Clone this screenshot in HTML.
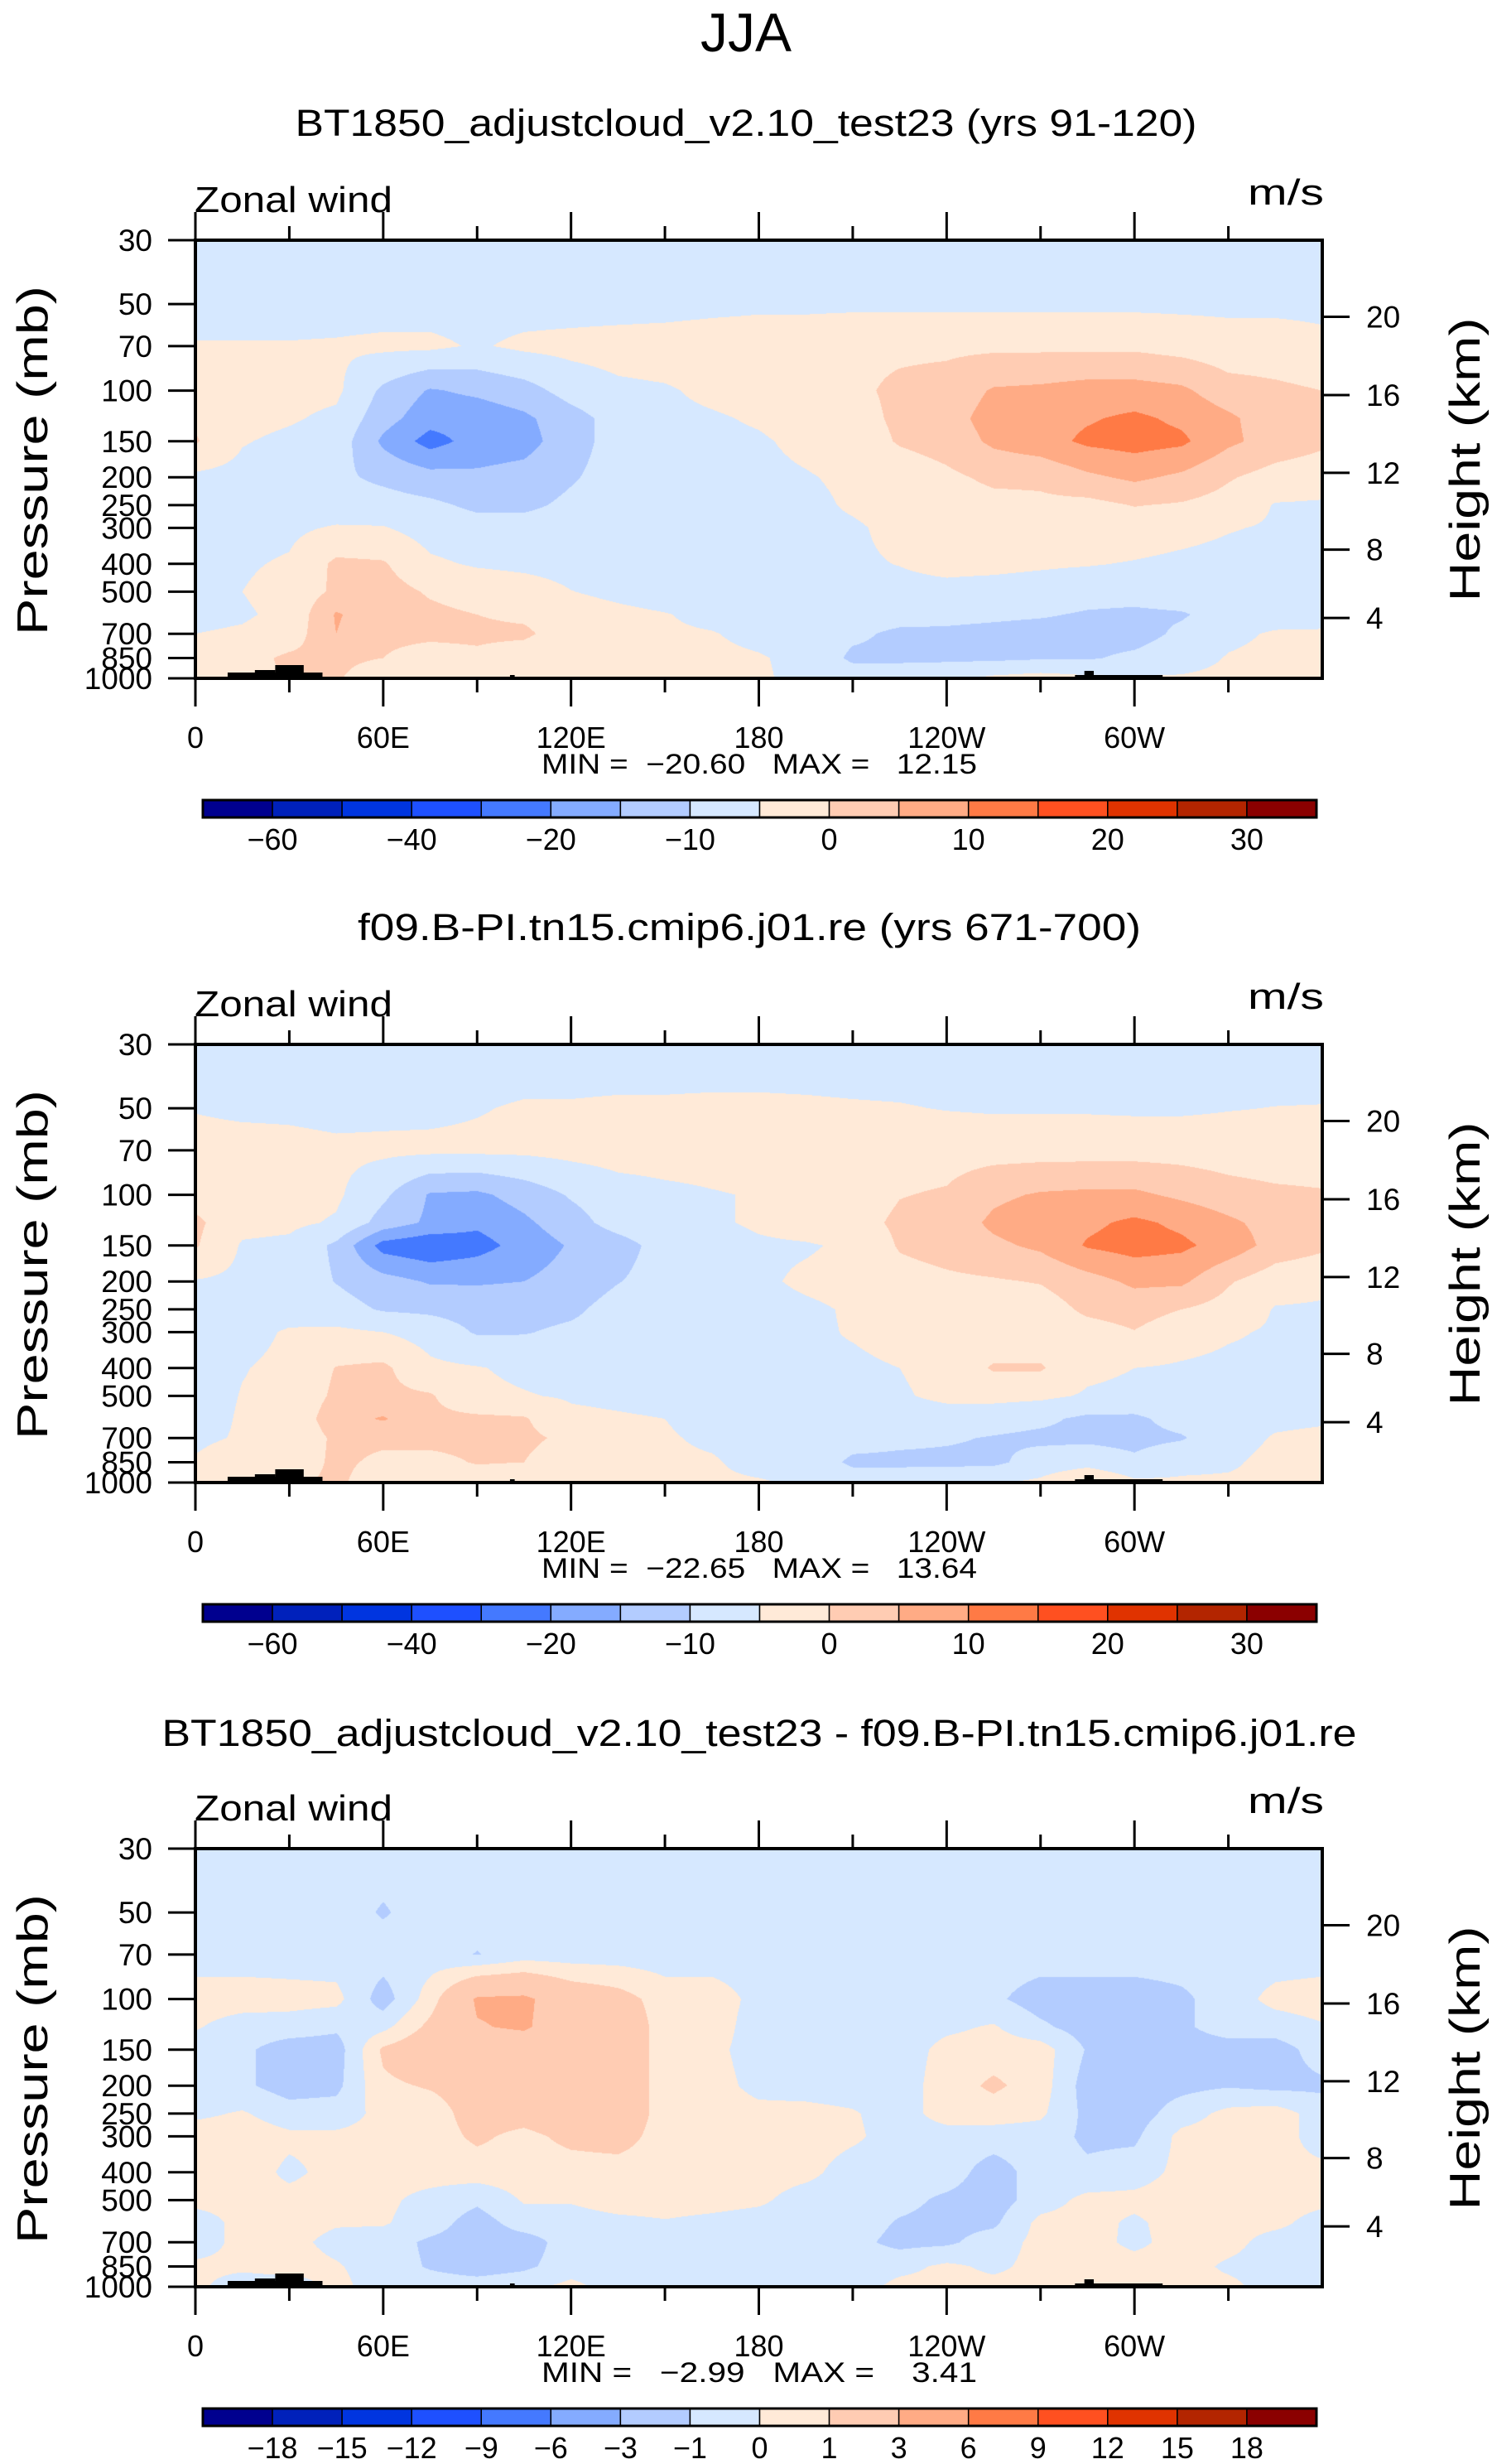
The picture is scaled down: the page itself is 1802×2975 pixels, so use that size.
<!DOCTYPE html>
<html><head><meta charset="utf-8"><title>JJA Zonal wind</title>
<style>
html,body{margin:0;padding:0;background:#fff;}
#wrap{position:relative;width:1802px;height:2975px;overflow:hidden;background:#fff;}
canvas{position:absolute;}
svg{position:absolute;left:0;top:0;}
text{font-family:"Liberation Sans",sans-serif;fill:#000;white-space:pre;}
</style></head>
<body>
<div id="wrap">
<canvas id="c0" width="1361" height="529" style="left:236px;top:290px"></canvas>
<canvas id="c1" width="1361" height="529" style="left:236px;top:1261px"></canvas>
<canvas id="c2" width="1361" height="529" style="left:236px;top:2232px"></canvas>
<svg id="ov" width="1802" height="2975" viewBox="0 0 1802 2975">
<text x="901" y="62" font-size="66" text-anchor="middle">JJA</text>
<text x="901" y="164" font-size="45" text-anchor="middle" textLength="1089" lengthAdjust="spacingAndGlyphs">BT1850_adjustcloud_v2.10_test23 (yrs 91-120)</text>
<text x="905" y="1135" font-size="45" text-anchor="middle" textLength="946" lengthAdjust="spacingAndGlyphs">f09.B-PI.tn15.cmip6.j01.re (yrs 671-700)</text>
<text x="917" y="2108" font-size="45" text-anchor="middle" textLength="1443" lengthAdjust="spacingAndGlyphs">BT1850_adjustcloud_v2.10_test23 - f09.B-PI.tn15.cmip6.j01.re</text>
</svg>
</div>
<script>
// ---------------- data ----------------
const LONS = [0,15,30,45,60,75,90,105,120,135,150,165,180,195,210,225,240,255,270,285,300,315,330,345,360];
const PLEVS = [30,50,70,100,125,150,200,250,300,400,500,600,700,850,1000];
const LEV_A = [-60,-50,-40,-30,-20,-15,-10,-5,0,5,10,15,20,25,30];
const LEV_B = [-18,-15,-12,-9,-6,-3,-1,0,1,3,6,9,12,15,18];
const CB_LABELS_A = ['−60','','−40','','−20','','−10','','0','','10','','20','','30'];
const CB_LABELS_B = ['−18','−15','−12','−9','−6','−3','−1','0','1','3','6','9','12','15','18'];
const COLORS = ['#00008f','#0021bb','#0035e0','#1e50ff','#4479ff','#84abff','#b3ccff','#d6e8ff','#ffead8','#ffccb3','#ffab85','#ff7a45','#ff5020','#e03300','#b32500','#8b0000'];
const MINMAX = ['MIN =  −20.60   MAX =   12.15','MIN =  −22.65   MAX =   13.64','MIN =   −2.99   MAX =    3.41'];
const LON_TICKS = [0,60,120,180,240,300];
const LON_LABELS = ['0','60E','120E','180','120W','60W'];
const P_TICKS = [30,50,70,100,150,200,250,300,400,500,700,850,1000];
const Z_TICKS = ['4','8','12','16','20'];
const Z_TICK_P = [617,357,193,103.6,55.4];
const TOPO_LON0 = [10.3,19,25.5,100.5,281,284];
const TOPO_LON1 = [40.6,25.5,34.6,102,309,287];
const TOPO_H = [7,10,16,4,4,9];

const U1 = [
[-8,-8,-8,-8,-8,-8,-8,-8,-8,-8,-8,-8,-8,-8,-8,-8,-8,-8,-8,-8,-8,-8,-8,-8,-8],
[-7,-7,-7,-7,-7,-7,-7,-7,-7,-7,-7,-6.5,-6,-6,-6,-6,-6,-6,-6,-6,-6,-6,-6,-6,-6],
[-4.7,-4.7,-4.7,-4.5,-4,-4,-5.5,-4,-3.5,-3,-2.5,-2,-2,-2,-1,-1,-1,-1,-1,-1,-1,-2,-3,-3,-4],
[-2,-3,-3.5,-4,-11,-15.5,-14,-12,-8,-6,-5.5,-4,-3,-2,-1,1,2,5.5,6,7,7,6,2,1,0],
[-1,-3.5,-4.5,-6,-13,-18,-18,-16,-12,-8,-6,-5.5,-4.5,-3,-2,1,3,7,8,9.5,11,9,6,2,1],
[0.5,-4.7,-6,-7,-16,-22,-18,-17,-12,-8,-7,-6,-5.5,-4,-3,0.5,2,6,8,11,12,11,6,3,1],
[-6,-6.5,-7,-9,-11,-13,-14,-13,-10.5,-8,-7,-6.5,-6,-5.3,-4.2,-3,-1,1,1,4,6,4,0.5,-2,-3],
[-7,-7,-7,-8,-8,-9,-11,-11,-9,-8,-7,-7,-6.5,-6,-4.5,-3.5,-2.5,-1.5,-1,-1.5,0.2,-0.5,-2,-5.3,-5.5],
[-7,-6.5,-6,-4.5,-4.7,-7,-8,-8,-7.5,-7,-7,-7,-6.5,-6,-5.5,-4,-3,-2.5,-2,-2,-2.5,-3.5,-4.7,-5.5,-6],
[-7,-5.5,-4.5,1,0.5,-4.2,-5.5,-6,-6.5,-7,-7,-7,-6.5,-6,-5.5,-4.9,-4,-4,-4.4,-4.7,-5.3,-6,-6.5,-7,-7],
[-7,-5,-3.5,1,2,-0.5,-2,-3,-4.9,-6,-7,-7.5,-7,-7,-6.5,-6,-6,-6.5,-7,-8,-8,-7,-7,-7,-7],
[-6,-5.5,-4,5.5,2,1,0,-1,-3,-4,-4.8,-6,-7,-7,-7.5,-8,-8.5,-9,-9.5,-10.5,-11,-10.5,-8,-7,-6.5],
[-5,-4.5,-3,5,1,1,1,1,-3,-4,-4.5,-4.8,-6,-7,-9,-11,-11,-11.5,-12,-12,-12,-9,-6,-4.5,-4.5],
[-3.5,-2,1,1,0,-2,-1,-3,-4,-4.5,-4.5,-4.2,-4.7,-6,-11,-11,-11,-11,-10.5,-10.5,-9,-7,-4.7,-4,-4],
[-4,-1,0,0.5,-3,-3,-4,-4.5,-4.5,-4.5,-4.5,-4.5,-4.5,-6,-7,-7,-6,-4,-3,-4,-4.5,-4.5,-4,-4,-4]
];
const U2 = [
[-8,-8,-8,-8,-8,-8,-8,-8,-8,-8,-8,-8,-8,-8,-8,-8,-8,-8,-8,-8,-8,-8,-8,-8,-8],
[-5.3,-6,-6,-6.5,-6.2,-6,-5.3,-4.5,-4.5,-4.2,-4.2,-4,-4,-4.2,-4.5,-4.7,-5.2,-5.5,-5.5,-5.5,-5.7,-5.7,-5.2,-4.9,-4.8],
[-3,-3,-3.5,-4,-4,-4,-4,-4,-3.5,-3,-3,-3,-3,-3,-3,-2,-2,-2,-2,-2,-2,-2,-2.5,-3,-3],
[-2,-3,-3.5,-4.2,-9,-15.5,-16,-13,-9.5,-7,-6,-5.3,-4.7,-4,-3,-0.2,0.5,4,5.5,6,6,4,2,1,0.5],
[1,-3.5,-4,-5.5,-12,-16,-19,-16,-12,-8,-6.5,-5.5,-4.5,-3.5,-2,1,2,6,8,9,11,9,6,3,1],
[0.5,-5.5,-6,-11,-22,-24,-22,-18,-14.5,-12,-8,-6.5,-5.5,-5.3,-4.5,0.5,2,4,6,10.5,12,11,8,3,1],
[-5.3,-6,-7,-10.2,-13,-15.5,-15.5,-15,-13,-10.2,-8,-6.5,-5.5,-4.5,-4,-2,-1,-0.5,0.3,3,6,6,0.5,-3,-4],
[-7,-7,-7,-8,-10.5,-11,-12,-12,-11,-8,-7,-6.5,-6,-5.5,-4.7,-4,-3,-3,-2.5,1,2,0,-2,-5.3,-5.5],
[-7,-6.5,-4.5,-4,-5,-7,-10.5,-10.3,-9,-8,-7,-6.5,-6,-5.5,-4.8,-4,-3,-3,-3,-2,-0.2,-3,-4.5,-5.5,-6],
[-7,-5.2,-4,0.2,1,-4,-4.7,-6,-7,-7,-6.5,-6,-5.5,-5.2,-5.5,-5,-3.5,0.5,0.5,-4,-5,-5.5,-6,-6,-6],
[-7,-4.8,-4,1,1,0.5,-4,-4.7,-5.5,-6,-6.5,-6.5,-6,-6,-6,-5.5,-4,-3.5,-4,-5.5,-6,-6.5,-6.5,-6.5,-6.5],
[-7,-4.5,-4,3,5.5,1,1,0.5,-4,-4.5,-5,-6,-6.5,-7,-7.5,-7,-7,-8,-9,-11,-11,-8,-6.5,-5.8,-5.5],
[-6,-4.5,-4,1,1,2,2,1,-1,-4.5,-4.7,-5.5,-6,-7,-8,-9,-9.5,-10.3,-11,-11,-11.5,-10.5,-6.5,-4.7,-4.2],
[-4.5,-2,-3,1,-1,-2,0.5,0,-3,-4,-4.5,-4.7,-6,-6.5,-11,-11,-11,-11,-8,-7,-9,-6,-5.5,-4,-4],
[-4,0.5,-1,1,-3,-4,-4,-4.5,-4.5,-4.5,-4.5,-4.5,-4.7,-5.5,-7,-7,-6.5,-5.5,-4,0.5,-4,-4.5,-4.5,-4.5,-4.5]
];
const U3 = [
[-0.5,-0.5,-0.5,-0.5,-0.5,-0.5,-0.5,-0.5,-0.5,-0.5,-0.5,-0.5,-0.5,-0.5,-0.5,-0.5,-0.5,-0.5,-0.5,-0.5,-0.5,-0.5,-0.5,-0.5,-0.5],
[-0.5,-0.5,-0.5,-0.5,-1.1,-0.5,-0.5,-0.5,-0.5,-0.5,-0.5,-0.5,-0.5,-0.5,-0.5,-0.5,-0.5,-0.5,-0.5,-0.5,-0.5,-0.5,-0.5,-0.5,-0.5],
[-0.5,-0.5,-0.5,-0.5,-0.5,-0.5,-1.05,-0.5,-0.5,-0.5,-0.5,-0.5,-0.5,-0.5,-0.5,-0.5,-0.5,-0.5,-0.5,-0.5,-0.5,-0.5,-0.5,-0.5,-0.5],
[0.5,0.5,0.4,0.3,-1.5,0.5,3.2,3.3,2,1.5,0.5,0.5,-0.3,-0.5,-0.5,-0.5,-0.5,-0.8,-1.5,-1.5,-1.5,-1.2,-0.5,0.3,0.5],
[0.1,-0.5,-0.5,-0.8,-0.3,1.3,2.9,3.2,2,2,0.5,0.5,-0.5,-0.5,-0.5,-0.5,-0.2,0.1,-0.8,-1.5,-1.5,-1.2,-0.5,-0.5,-0.1],
[-0.5,-0.8,-1.5,-1.5,1.2,2,2,2,2,2,0.5,0.3,-0.5,-0.5,-0.5,-0.5,0.3,0.5,0.5,-1.1,-1.5,-1.5,-1.5,-1.5,-0.5],
[-0.5,-0.8,-1.5,-1.3,0.8,1.1,1.5,2,2,2,0.5,0.4,-0.3,-0.4,-0.5,-0.5,0.5,1.2,0.5,-1.5,-1.5,-1.3,-1.1,-1.3,-1.2],
[-0.2,0.1,-0.5,-0.5,0.3,0.5,1.5,1.5,2,2,0.5,0.5,0.3,0.3,0.1,-0.5,0.5,0.5,0.2,-1.3,-1.5,-0.5,0.3,0.5,-0.5],
[0.5,0.5,0.2,0.2,0.3,0.5,1.2,0.7,1.3,1.5,0.5,0.5,0.5,0.5,0.2,-0.5,-0.5,-0.5,-0.5,-1.2,-1.2,0.3,0.5,0.5,-0.5],
[0.5,0.5,-0.2,0.3,0.3,0.4,0.5,0.5,0.5,0.5,0.5,0.5,0.5,0.3,-0.5,-0.5,-0.5,-1.5,-0.5,-0.8,-0.5,0.3,0.5,0.2,0.3],
[0.3,0.3,0.3,0.4,0.2,-0.3,-0.8,0.1,0.1,0.5,0.5,0.4,0.2,-0.5,-0.5,-0.7,-1.2,-1.5,-0.5,0.3,0.3,0.5,0.5,0.5,0.3],
[-0.5,0.3,0.4,0.1,0.1,-0.5,-1.5,-0.5,-0.5,-0.3,-0.1,-0.3,-0.5,-0.5,-0.5,-1.1,-1.3,-1.2,0.3,0.4,-0.2,0.5,0.4,0.3,-0.5],
[-0.5,0.3,0.3,-0.3,-0.5,-1.2,-1.5,-1.5,-0.5,-0.5,-0.5,-0.5,-0.5,-0.5,-0.7,-1.3,-1.2,-0.5,0.3,0.5,-0.3,0.5,0.4,-0.5,-0.5],
[0.2,0.2,0.4,0.1,-0.5,-1.1,-1.5,-1.2,-0.5,-0.5,-0.5,-0.5,-0.5,-0.5,-0.5,-0.3,0.2,-0.2,0.3,0.5,0.5,0.5,-0.2,-0.5,-0.5],
[0.2,-0.5,-0.5,0.3,-0.5,-0.5,-0.5,-0.3,0.3,-0.5,-0.5,-0.5,-0.5,-0.5,-0.5,0.3,0.3,0.3,0.3,0.5,0.5,0.3,0.3,-0.5,-0.5]
];

// ---------------- geometry ----------------
const X0 = 236, X1 = 1597, Y0 = 290, Y1 = 819, DY = 971;
const PW = X1 - X0, PH = Y1 - Y0;
const LN0 = Math.log(30), LNR = Math.log(1000 / 30);
function xOf(lon) { return X0 + lon / 360 * PW; }
function yOf(p) { return Y0 + (Math.log(p) - LN0) / LNR * PH; }

function hexRGB(h) { return [parseInt(h.substr(1,2),16), parseInt(h.substr(3,2),16), parseInt(h.substr(5,2),16)]; }
const RGB = COLORS.map(hexRGB);

function classify(v, lev) {
  let k = 0;
  while (k < lev.length && v >= lev[k]) k++;
  return k;
}

function drawField(cv, data, lev) {
  const ctx = cv.getContext('2d');
  const w = cv.width, h = cv.height;
  const img = ctx.createImageData(w, h);
  const lnP = PLEVS.map(p => Math.log(p));
  const rowI = [], rowT = [];
  for (let y = 0; y < h; y++) {
    const lp = LN0 + (y + 0.5) / h * LNR;
    let j = 0;
    while (j < lnP.length - 2 && lp > lnP[j + 1]) j++;
    let t = (lp - lnP[j]) / (lnP[j + 1] - lnP[j]);
    t = Math.max(0, Math.min(1, t));
    rowI.push(j); rowT.push(t);
  }
  const step = LONS[1] - LONS[0];
  for (let x = 0; x < w; x++) {
    const lon = (x + 0.5) / w * 360;
    let i = Math.min(LONS.length - 2, Math.floor(lon / step));
    const s = (lon - LONS[i]) / step;
    for (let y = 0; y < h; y++) {
      const j = rowI[y], t = rowT[y];
      const a = data[j][i] * (1 - s) + data[j][i + 1] * s;
      const b = data[j + 1][i] * (1 - s) + data[j + 1][i + 1] * s;
      const v = a * (1 - t) + b * t;
      const c = RGB[classify(v, lev)];
      const o = (y * w + x) * 4;
      img.data[o] = c[0]; img.data[o + 1] = c[1]; img.data[o + 2] = c[2]; img.data[o + 3] = 255;
    }
  }
  ctx.putImageData(img, 0, 0);
}

drawField(document.getElementById('c0'), U1, LEV_A);
drawField(document.getElementById('c1'), U2, LEV_A);
drawField(document.getElementById('c2'), U3, LEV_B);

// ---------------- overlay ----------------
const NS = 'http://www.w3.org/2000/svg';
const ov = document.getElementById('ov');
function line(name, x1, y1, x2, y2, sw) {
  const el = document.createElementNS(NS, 'line');
  
  
  el.setAttribute('x1', x1); el.setAttribute('y1', y1);
  el.setAttribute('x2', x2); el.setAttribute('y2', y2);
  el.setAttribute('stroke', '#000'); el.setAttribute('stroke-width', sw);
  ov.appendChild(el); return el;
}
function rect(name, x, y, w, h, fill, stroke, sw) {
  const el = document.createElementNS(NS, 'rect');
  
  
  el.setAttribute('x', x); el.setAttribute('y', y);
  el.setAttribute('width', w); el.setAttribute('height', h);
  el.setAttribute('fill', fill);
  if (stroke) { el.setAttribute('stroke', stroke); el.setAttribute('stroke-width', sw); }
  ov.appendChild(el); return el;
}
function text(name, s, x, y, size, anchor, len, rot) {
  const el = document.createElementNS(NS, 'text');
  
  
  el.setAttribute('x', x); el.setAttribute('y', y);
  el.setAttribute('font-size', size);
  el.setAttribute('text-anchor', anchor);
  if (len) { el.setAttribute('textLength', len); el.setAttribute('lengthAdjust', 'spacingAndGlyphs'); }
  if (rot) el.setAttribute('transform', 'rotate(-90 ' + x + ' ' + y + ')');
  el.textContent = s;
  ov.appendChild(el); return el;
}

for (let k = 0; k < 3; k++) {
  const off = k * DY;
  const lev = k < 2 ? LEV_A : LEV_B;
  const labs = k < 2 ? CB_LABELS_A : CB_LABELS_B;
  for (let t = 0; t < TOPO_H.length; t++) {
    rect('topography-bar', xOf(TOPO_LON0[t]), Y1 + off - TOPO_H[t], xOf(TOPO_LON1[t]) - xOf(TOPO_LON0[t]), TOPO_H[t], '#000');
  }
  rect('plot-frame', X0, Y0 + off, PW, PH, 'none', '#000', 4);
  for (let lon = 0; lon < 360; lon += 30) {
    const major = lon % 60 === 0;
    const len = major ? 34 : 17;
    const x = xOf(lon);
    line('top-lon-tick', x, Y0 + off, x, Y0 + off - len, 3);
    line('bottom-lon-tick', x, Y1 + off, x, Y1 + off + len, 3);
  }
  for (let i = 0; i < LON_TICKS.length; i++) {
    text('lon-tick-label', LON_LABELS[i], xOf(LON_TICKS[i]), 903 + off, 36, 'middle');
  }
  for (let i = 0; i < P_TICKS.length; i++) {
    const y = yOf(P_TICKS[i]) + off;
    line('pressure-tick', X0, y, X0 - 33, y, 3);
    text('pressure-tick-label', String(P_TICKS[i]), 184, y + 13, 37, 'end');
  }
  for (let i = 0; i < Z_TICKS.length; i++) {
    const y = yOf(Z_TICK_P[i]) + off;
    line('height-tick', X1, y, X1 + 33, y, 3);
    text('height-tick-label', Z_TICKS[i], 1650, y + 13, 37, 'start');
  }
  text('y-axis-title', 'Pressure (mb)', 57, 556 + off, 52, 'middle', 422, true);
  text('right-axis-title', 'Height (km)', 1787, 555 + off, 52, 'middle', 343, true);
  text('variable-label', 'Zonal wind', 235, 256 + off, 44, 'start', 239);
  text('units-label', 'm/s', 1599, 247 + off, 44, 'end', 92);
  text('min-max-label', MINMAX[k], 917, 934 + off, 34, 'middle', 526);
  const cbx = 245, cbw = 1345, cby = 966 + off, cbh = 21;
  const bw = cbw / COLORS.length;
  for (let i = 0; i < COLORS.length; i++) {
    rect('colorbar-box', cbx + i * bw, cby, bw, cbh, COLORS[i], '#000', 1.5);
  }
  rect('colorbar-outline', cbx, cby, cbw, cbh, 'none', '#000', 3);
  for (let i = 0; i < lev.length; i++) {
    if (labs[i] !== '') text('colorbar-label', labs[i], cbx + (i + 1) * bw, 1026 + off, 36, 'middle');
  }
}
</script>
</body></html>
